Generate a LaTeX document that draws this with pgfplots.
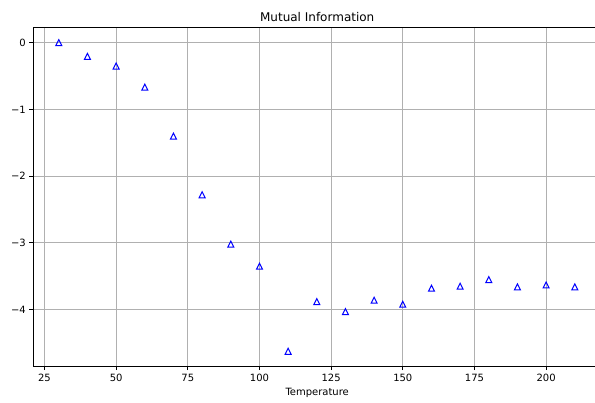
\documentclass[border=0pt]{standalone}
\usepackage{fontspec}
\setmainfont{DejaVu Sans}
\usepackage{pgfplots}
\pgfplotsset{compat=1.18}
\definecolor{gridgray}{HTML}{B0B0B0}
\pgfdeclareplotmark{mtri}{%
  \pgfpathmoveto{\pgfqpoint{0pt}{\pgfplotmarksize}}%
  \pgfpathlineto{\pgfqpoint{-\pgfplotmarksize}{-\pgfplotmarksize}}%
  \pgfpathlineto{\pgfqpoint{\pgfplotmarksize}{-\pgfplotmarksize}}%
  \pgfpathclose
  \pgfusepathqstroke}
\begin{document}
\begin{tikzpicture}
\useasboundingbox (0,0) rectangle (595pt,403pt);
\begin{axis}[
  at={(33pt,36.3pt)}, anchor=south west,
  scale only axis, width=562pt, height=339.4pt,
  xmin=21, xmax=217.05, ymin=-4.856, ymax=0.231,
  axis lines*=left,
  xtick={25,50,...,200},
  xticklabels={25,50,75,100,125,150,175,200},
  ytick={-4,-3,-2,-1,0},
  yticklabels={−4,−3,−2,−1,0},
  tick align=outside, major tick length=3.5pt,
  grid=major,
  major grid style={color=gridgray, line width=0.8pt},
  axis line style={line width=0.8pt},
  every tick/.style={black, line width=0.8pt},
  tick label style={font=\fontsize{10}{12}\selectfont, inner sep=0pt},
  xticklabel style={anchor=base, yshift=-11.5pt},
  yticklabel style={anchor=east, xshift=-3.5pt},
  xlabel={Temperature},
  xlabel style={at={(axis description cs:0.5,0)}, xshift=3.2pt, anchor=base, yshift=-28.8pt, font=\fontsize{10}{12}\selectfont, inner sep=0pt},
  title={Mutual Information},
  title style={at={(axis description cs:0.5,1)}, xshift=3.2pt, anchor=base, font=\fontsize{12}{14}\selectfont, inner sep=0pt},
  clip=false,
]
\addplot[only marks, mark=mtri, mark size=3pt, mark options={draw=blue, line width=1pt, fill=none}] coordinates {
(30,0) (40,-0.205) (50,-0.35) (60,-0.665) (70,-1.40) (80,-2.28) (90,-3.02)
(100,-3.35) (110,-4.625) (120,-3.88) (130,-4.03) (140,-3.86) (150,-3.92)
(160,-3.68) (170,-3.65) (180,-3.55) (190,-3.66) (200,-3.63) (210,-3.66)
};
\draw[line width=0.8pt, black] (rel axis cs:0,1) -- (rel axis cs:1,1);
\end{axis}
\end{tikzpicture}
\end{document}
